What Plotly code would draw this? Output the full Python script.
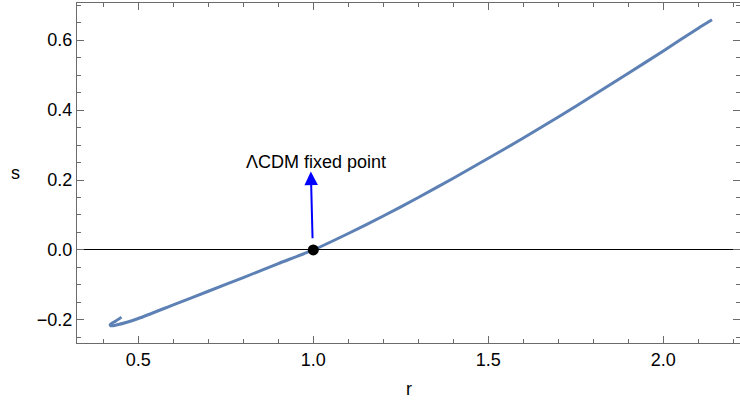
import plotly.graph_objects as go

# Trajectory in the statefinder (r, s) plane
r_vals = [0.452, 0.436, 0.420, 0.422, 0.440, 0.470, 0.500, 0.600, 0.700, 0.800, 0.900, 1.000,
          1.100, 1.200, 1.300, 1.400, 1.500, 1.600, 1.700, 1.800, 1.900, 2.000, 2.100, 2.139]
s_vals = [-0.192, -0.203, -0.213, -0.217, -0.214, -0.206, -0.196, -0.157, -0.118, -0.079, -0.039, 0.000,
          0.047, 0.097, 0.150, 0.205, 0.262, 0.320, 0.380, 0.442, 0.505, 0.569, 0.634, 0.658]

fixed_r = [1.0]
fixed_s = [0.0]
label_text = "ΛCDM fixed point"
x_title = "r"
y_title = "s"

FONT = "Liberation Sans, Arial, sans-serif"
FRAME = "#6b6b6b"

fig = go.Figure()
fig.add_trace(go.Scatter(x=r_vals, y=s_vals, mode="lines",
                         line=dict(color="#5E81B5", width=3, shape="spline", smoothing=0.6),
                         hoverinfo="skip", showlegend=False))
fig.add_trace(go.Scatter(x=fixed_r, y=fixed_s, mode="markers",
                         marker=dict(color="black", size=11), showlegend=False))

# arrow
fig.add_annotation(x=0.993, y=0.224, ax=0.998, ay=0.029, xref="x", yref="y",
                   axref="x", ayref="y", text="", showarrow=True,
                   arrowcolor="blue", arrowwidth=2, arrowhead=2, arrowsize=1.35)
# label
fig.add_annotation(x=1.007, y=0.252, xref="x", yref="y", text=label_text,
                   showarrow=False, font=dict(family=FONT, size=18, color="black"),
                   xanchor="center", yanchor="middle")

# axis titles (horizontal, as in the reference)
fig.add_annotation(x=0.5, y=-0.135, xref="paper", yref="paper", text=x_title,
                   showarrow=False, font=dict(family=FONT, size=18, color="black"),
                   xanchor="center", yanchor="middle")
fig.add_annotation(x=-0.0935, y=0.5, xref="paper", yref="paper", text=y_title,
                   showarrow=False, font=dict(family=FONT, size=18, color="black"),
                   xanchor="center", yanchor="middle")

axis_common = dict(showgrid=False, showline=True, linecolor=FRAME, linewidth=1.3,
                   mirror="ticks", ticks="inside", tickcolor=FRAME, ticklen=7, tickwidth=1,
                   tickfont=dict(family=FONT, size=18, color="black"))

fig.update_xaxes(range=[0.325, 2.219], dtick=0.5, tick0=0, tickformat=".1f",
                 minor=dict(dtick=0.1, ticks="inside", ticklen=4, tickcolor=FRAME),
                 zeroline=False, **axis_common)
fig.update_yaxes(range=[-0.266, 0.706], dtick=0.2, tick0=0, tickformat=".1f",
                 minor=dict(dtick=0.05, ticks="inside", ticklen=4, tickcolor=FRAME),
                 zeroline=True, zerolinecolor="black", zerolinewidth=1,
                 **axis_common)

fig.update_layout(width=740, height=401, margin=dict(l=77, r=0, t=3, b=58),
                  plot_bgcolor="white", paper_bgcolor="white",
                  font=dict(family=FONT, size=18, color="black"))
fig.write_html("out.html")
